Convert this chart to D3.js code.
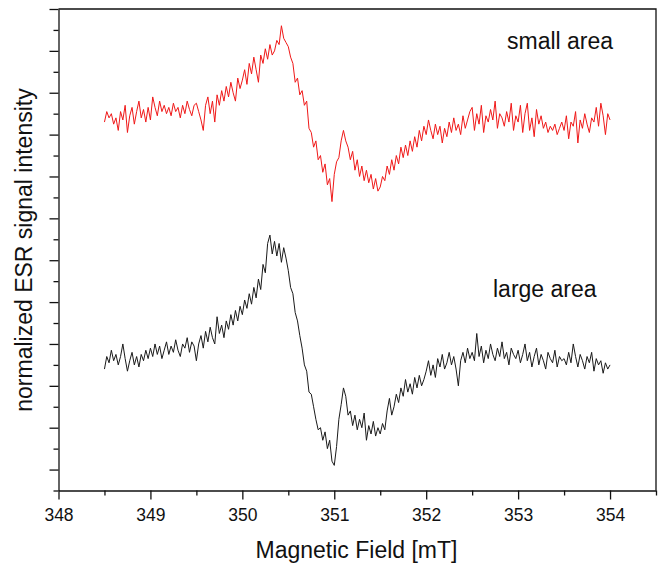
<!DOCTYPE html>
<html>
<head>
<meta charset="utf-8">
<script src="https://cdn.jsdelivr.net/npm/d3@7"></script>
<style>
  body { margin: 0; background: #fff; }
  svg { display: block; font-family: "Liberation Sans", Arial, sans-serif; }
</style>
</head>
<body>
<div id="chart"></div>
<script>
// field sampling grid (mT)
const fieldStart = 348.5;
const fieldStep = 0.025;

// ESR signal (arbitrary units, 10 units per y tick)
const smallArea = [
  176, 181, 178, 180, 175, 178, 172, 181, 177, 184, 171, 179, 183, 175, 181, 186, 178, 182, 176, 183,
  177, 188, 183, 179, 186, 181, 184, 180, 183, 179, 185, 181, 183, 178, 184, 180, 186, 182, 179, 184,
  185, 181, 177, 172, 184, 188, 180, 186, 176, 189, 184, 191, 186, 193, 188, 195, 190, 186, 197, 192,
  196, 201, 194, 204, 199, 207, 201, 195, 208, 204, 211, 206, 213, 208, 210, 215, 213, 222, 216, 214,
  212, 207, 204, 195, 197, 189, 191, 184, 186, 173, 171, 164, 167, 158, 160, 152, 156, 146, 149, 138,
  151, 157, 159, 167, 172, 167, 164, 158, 162, 153, 158, 150, 155, 148, 153, 147, 151, 144, 149, 143,
  145, 150, 148, 155, 151, 158, 153, 160, 156, 164, 159, 165, 160, 167, 162, 169, 164, 172, 167, 174,
  170, 177, 172, 168, 175, 170, 174, 166, 173, 169, 176, 171, 178, 172, 175, 170, 179, 173, 177, 181,
  183, 172, 180, 175, 184, 171, 179, 176, 182, 177, 186, 173, 180, 178, 174, 181, 176, 185, 172, 179,
  176, 184, 171, 180, 185, 172, 178, 169, 182, 175, 179, 173, 176, 171, 174, 172, 175, 170, 173, 176,
  172, 179, 168, 176, 174, 181, 166, 177, 173, 180, 175, 171, 178, 176, 183, 174, 185, 179, 170, 180, 177
];

const largeArea = [
  58, 64, 61, 67, 62, 65, 60, 64, 70, 63, 57, 62, 66, 60, 64, 59, 65, 62, 67, 63,
  68, 64, 70, 65, 69, 63, 67, 71, 65, 69, 66, 72, 67, 64, 70, 68, 73, 66, 71, 69,
  62, 70, 74, 68, 76, 71, 78, 73, 70, 83, 75, 79, 73, 81, 77, 84, 79, 86, 81, 88,
  84, 91, 87, 94, 89, 97, 92, 101, 96, 108, 104, 118, 122, 113, 119, 112, 118, 109, 116, 111,
  105, 97, 94, 85, 81, 74, 68, 60, 57, 47, 46, 40, 34, 29, 30, 24, 28, 20, 24, 14,
  12, 21, 34, 41, 49, 45, 36, 38, 31, 36, 29, 34, 30, 37, 24, 31, 27, 33, 26, 30,
  27, 32, 29, 38, 44, 36, 40, 46, 42, 49, 45, 53, 47, 51, 46, 54, 49, 55, 50, 53,
  57, 62, 55, 60, 54, 63, 59, 65, 58, 61, 66, 60, 64, 58, 50, 62, 66, 61, 68, 63,
  66, 62, 75, 64, 69, 61, 67, 63, 70, 65, 62, 68, 64, 71, 63, 66, 60, 68, 65, 63,
  67, 61, 65, 70, 62, 66, 59, 64, 68, 60, 65, 62, 58, 66, 63, 61, 67, 59, 64, 62,
  63, 60, 66, 61, 70, 64, 59, 65, 62, 58, 64, 61, 66, 57, 63, 60, 62, 56, 61, 58, 60
];

const xMajorTicks = [348, 349, 350, 351, 352, 353, 354];
const seriesLabels = ["small area", "large area"];

const width = 659;
const height = 566;
const margin = { top: 9, right: 3, bottom: 75.5, left: 58.5 };

const field = smallArea.map((_, i) => fieldStart + i * fieldStep);

const x = d3.scaleLinear()
  .domain([348, 354.5])
  .range([margin.left, width - margin.right]);

const y = d3.scaleLinear()
  .domain([0, 230])
  .range([height - margin.bottom, margin.top]);

const svg = d3.select("#chart")
  .append("svg")
  .attr("width", width)
  .attr("height", height)
  .attr("viewBox", [0, 0, width, height]);

// frame (top and right)
svg.append("path")
  .attr("d", `M${x(348)},${y(230)}H${x(354.5)}V${y(0)}`)
  .attr("fill", "none")
  .attr("stroke", "#111")
  .attr("stroke-width", 1.3);

// y axis, major ticks on odd positions, minor on even
const yMajor = d3.range(10, 231, 20);
const yMinor = d3.range(0, 231, 20);

svg.append("g")
  .attr("transform", `translate(${margin.left},0)`)
  .call(d3.axisLeft(y).tickValues(yMinor).tickSize(5).tickSizeOuter(0).tickFormat(""))
  .call(g => g.selectAll("path, line").attr("stroke", "#111").attr("stroke-width", 1.3));

svg.append("g")
  .attr("transform", `translate(${margin.left},0)`)
  .call(d3.axisLeft(y).tickValues(yMajor).tickSize(9).tickSizeOuter(0).tickFormat(""))
  .call(g => g.select(".domain").remove())
  .call(g => g.selectAll("line").attr("stroke", "#111").attr("stroke-width", 1.3));

// x axis
svg.append("g")
  .attr("transform", `translate(0,${y(0)})`)
  .call(d3.axisBottom(x).tickValues(d3.range(348.5, 354.6, 1)).tickSize(5).tickSizeOuter(0).tickFormat(""))
  .call(g => g.selectAll("path, line").attr("stroke", "#111").attr("stroke-width", 1.3));

svg.append("g")
  .attr("transform", `translate(0,${y(0)})`)
  .call(d3.axisBottom(x).tickValues(xMajorTicks).tickSize(9).tickPadding(9).tickFormat(d3.format("d")))
  .call(g => g.select(".domain").remove())
  .call(g => g.selectAll("line").attr("stroke", "#111").attr("stroke-width", 1.3))
  .call(g => g.selectAll("text")
    .attr("fill", "#111")
    .attr("font-family", "'Liberation Sans', Arial, sans-serif")
    .attr("font-size", 17.5));

// traces
const line = d3.line()
  .x((d, i) => x(field[i]))
  .y(d => y(d));

svg.append("path")
  .datum(smallArea)
  .attr("fill", "none")
  .attr("stroke", "#f01818")
  .attr("stroke-width", 1)
  .attr("d", line);

svg.append("path")
  .datum(largeArea)
  .attr("fill", "none")
  .attr("stroke", "#1a1a1a")
  .attr("stroke-width", 1)
  .attr("d", line);

// annotations
svg.append("text")
  .attr("x", 507)
  .attr("y", 49)
  .attr("font-size", 23)
  .attr("fill", "#111")
  .text(seriesLabels[0]);

svg.append("text")
  .attr("x", 493)
  .attr("y", 297)
  .attr("font-size", 23)
  .attr("fill", "#111")
  .text(seriesLabels[1]);

// axis titles
svg.append("text")
  .attr("x", 356.5)
  .attr("y", 558)
  .attr("text-anchor", "middle")
  .attr("font-size", 23)
  .attr("fill", "#111")
  .text("Magnetic Field [mT]");

svg.append("text")
  .attr("transform", "translate(32,250) rotate(-90)")
  .attr("text-anchor", "middle")
  .attr("font-size", 23)
  .attr("fill", "#111")
  .text("normalized ESR signal intensity");
</script>
</body>
</html>
